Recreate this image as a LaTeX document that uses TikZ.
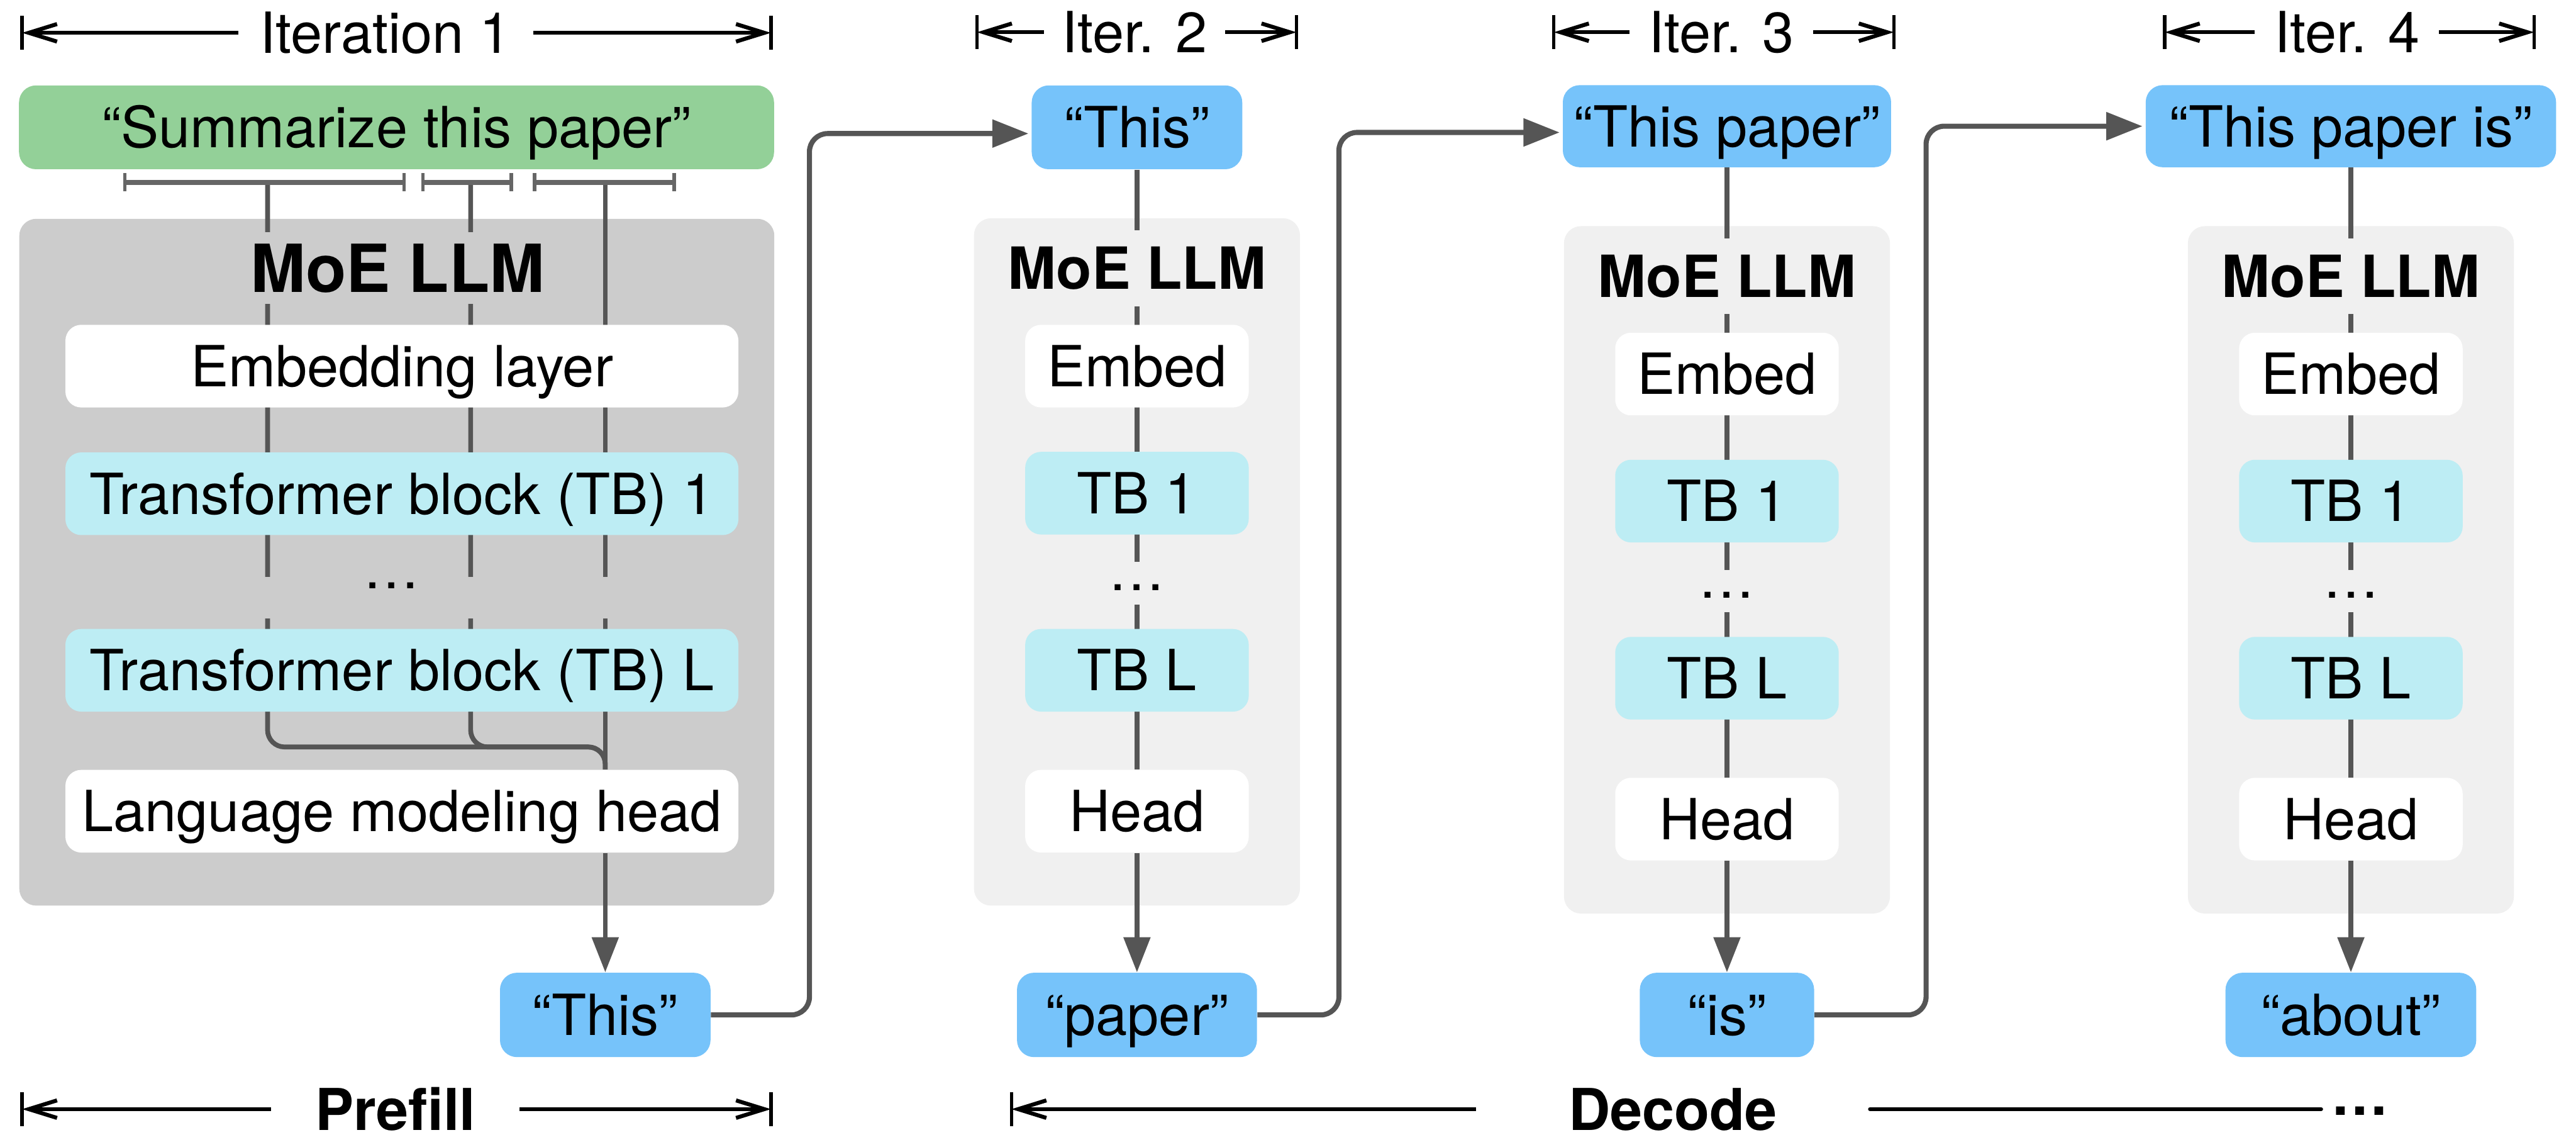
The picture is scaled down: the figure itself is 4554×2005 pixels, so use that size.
\documentclass[tikz,border=0pt]{standalone}
\usepackage{fontspec}
\setmainfont{TeX Gyre Heros}
\usetikzlibrary{arrows.meta}

\pgfdeclarelayer{panel}
\pgfdeclarelayer{wires}
\pgfsetlayers{panel,wires,main}

\definecolor{promptgreen}{RGB}{147,208,152}
\definecolor{tokenblue}{RGB}{118,195,250}
\definecolor{blockcyan}{RGB}{189,237,244}
\definecolor{panelgray}{RGB}{204,204,204}
\definecolor{panellight}{RGB}{240,240,240}
\definecolor{wiregray}{RGB}{85,85,85}
\definecolor{spangray}{RGB}{102,102,102}

\newcommand{\bodyfont}{\fontsize{28.5}{34}\selectfont}
\newcommand{\bigtitlefont}{\fontsize{33.3}{40}\selectfont\bfseries}
\newcommand{\smalltitlefont}{\fontsize{29.2}{35}\selectfont\bfseries}
\newcommand{\phasefont}{\fontsize{29}{35}\selectfont\bfseries}

\tikzset{
  blk/.style={rounded corners=0.28cm, inner sep=0pt, font=\bodyfont,
              text height=20.5pt, text depth=0pt},
  tokbox/.style={blk, fill=tokenblue, minimum height=1.46cm, rounded corners=0.3cm},
  promptbox/.style={blk, fill=promptgreen, minimum height=1.48cm, rounded corners=0.3cm},
  layerbox/.style={blk, fill=white, minimum height=1.46cm},
  tbbox/.style={blk, fill=blockcyan, minimum height=1.46cm},
  llmpanel/.style={rounded corners=0.3cm, inner sep=0pt},
  bigtitle/.style={font=\bigtitlefont, fill=panelgray, inner xsep=0.2cm,
                   inner ysep=0.21cm, text height=24pt, text depth=0pt},
  smalltitle/.style={font=\smalltitlefont, fill=panellight, inner xsep=0.1cm,
                     inner ysep=0.3cm, text height=21pt, text depth=0pt},
  wire/.style={draw=wiregray, line width=0.085cm},
  flow/.style={wire, -{Triangle[length=0.62cm, width=0.46cm]}},
  link/.style={wire, line width=0.09cm, rounded corners=0.32cm, shorten >=0.05cm,
               -{Triangle[length=0.64cm, width=0.48cm]}},
  span/.style={draw=black, line width=0.07cm,
               -{Straight Barb[length=0.5cm, width=0.31cm]}},
  spanplain/.style={draw=black, line width=0.07cm, line cap=round},
  spanbar/.style={draw=black, line width=0.06cm},
  spanlabel/.style={font=\bodyfont, inner sep=0pt, text height=20.5pt, text depth=0pt},
  phaselabel/.style={font=\phasefont, inner sep=0pt, text height=21pt, text depth=0pt},
  tokspan/.style={draw=spangray, line width=0.09cm},
  tokspantick/.style={draw=spangray, line width=0.06cm},
}

% one decode-step column of the model: #1 id, #2 centre x, #3 vertical offset
\newcommand{\decodecolumn}[3]{%
  \begin{pgfonlayer}{panel}
    \node[llmpanel, fill=panellight, minimum width=5.76cm, minimum height=12.14cm]
      (llm#1) at (#2, 993+#3) {};
  \end{pgfonlayer}
  \node[smalltitle] (title#1) at (#2, 474+#3) {MoE LLM};
  \node[layerbox, minimum width=3.95cm] (emb#1) at (#2, 647+#3) {Embed};
  \node[tbbox, minimum width=3.95cm] (tbA#1) at (#2, 871.5+#3) {TB 1};
  \node[fill=panellight, font=\bodyfont, inner sep=0pt, text height=0.5cm,
        text depth=0.25cm, anchor=base] (dots#1) at (#2, 1043+#3) {…};
  \node[tbbox, minimum width=3.95cm] (tbL#1) at (#2, 1184.5+#3) {TB L};
  \node[layerbox, minimum width=3.95cm] (head#1) at (#2, 1433.5+#3) {Head};
}

\begin{document}
\begin{tikzpicture}[x=0.01cm, y=-0.01cm]
\useasboundingbox (0,0) rectangle (4554,2005);

% ---------------- prefill: iteration 1 ----------------
\node[promptbox, minimum width=13.34cm] (prompt) at (701,225) {“Summarize this paper”};

\begin{pgfonlayer}{panel}
  \node[llmpanel, fill=panelgray, minimum width=13.34cm, minimum height=12.13cm]
    (llm1) at (701.5,993.5) {};
\end{pgfonlayer}
\node[bigtitle] (title1) at (703,474) {MoE LLM};
\node[layerbox, minimum width=11.89cm] (emb1) at (710.5,647) {Embedding layer};
\node[tbbox, minimum width=11.89cm] (tbA1) at (710.5,872.5) {Transformer block (TB) 1};
\node[fill=panelgray, font=\bodyfont, inner sep=0pt, text height=0.21cm,
      text depth=0.53cm, anchor=base] (dots1) at (770,1040)
      {\makebox[6.6cm][l]{\hspace{2.02cm}…}};
\node[tbbox, minimum width=11.89cm] (tbL1) at (710.5,1184.5) {Transformer block (TB) L};
\node[layerbox, minimum width=11.89cm] (head1) at (710.5,1433.5) {Language modeling head};
\node[tokbox, minimum width=3.72cm, minimum height=1.49cm] (out1) at (1070,1793.5) {“This”};

% token spans under the prompt
\foreach \l/\r in {221/714, 748/904, 945/1192} {
  \draw[tokspan] (\l,322) -- (\r,322);
  \draw[tokspantick] (\l,306) -- (\l,338) (\r,306) -- (\r,338);
}
\coordinate (s1) at (473,322);
\coordinate (s2) at (832,322);
\coordinate (s3) at (1070,322);
\coordinate (merge) at (1070,1320);

\begin{pgfonlayer}{wires}
  \draw[wire, rounded corners=0.3cm] (s1) |- (merge) -- (merge |- head1.north);
  \draw[wire, rounded corners=0.3cm] (s2) |- (merge) -- (merge |- head1.north);
  \draw[wire] (s3) -- (s3 |- head1.north);
\end{pgfonlayer}
\draw[flow] (s3 |- head1.south) -- (s3 |- out1.north);

% ---------------- decode: iterations 2 to 4 ----------------
\decodecolumn{2}{2010}{0}
\decodecolumn{3}{3053}{14}
\decodecolumn{4}{4156}{14}

\node[tokbox, minimum width=3.72cm, minimum height=1.48cm] (top2) at (2010,225) {“This”};
\node[tokbox, minimum width=5.80cm, minimum height=1.45cm] (top3) at (3053,223) {“This paper”};
\node[tokbox, minimum width=7.25cm, minimum height=1.45cm] (top4) at (4156,223) {“This paper is”};

\node[tokbox, minimum width=4.24cm, minimum height=1.49cm] (out2) at (2010,1793.5) {“paper”};
\node[tokbox, minimum width=3.08cm, minimum height=1.49cm] (out3) at (3053,1793.5) {“is”};
\node[tokbox, minimum width=4.43cm, minimum height=1.49cm] (out4) at (4156,1793.5) {“about”};

\begin{pgfonlayer}{wires}
  \foreach \i in {2,3,4} {
    \draw[wire] (top\i.south) -- (head\i.north);
  }
\end{pgfonlayer}
\foreach \i in {2,3,4} {
  \draw[flow] (head\i.south) -- (out\i.north);
}

% generated token fed back as the next input
\coordinate (c12) at (1431,1000);
\coordinate (c23) at (2367,1000);
\coordinate (c34) at (3405,1000);
\draw[link] (out1.east) -| (c12) |- ([yshift=-0.11cm]top2.west);
\draw[link] (out2.east) -| (c23) |- ([yshift=-0.11cm]top3.west);
\draw[link] (out3.east) -| (c34) |- (top4.west);

% ---------------- iteration spans ----------------
\node[spanlabel, minimum width=5.2cm]  (it1) at (682,58)    {Iteration 1};
\node[spanlabel, minimum width=3.19cm] (it2) at (2005.5,57) {Iter. 2};
\node[spanlabel, minimum width=3.24cm] (it3) at (3043,57)   {Iter. 3};
\node[spanlabel, minimum width=3.24cm] (it4) at (4149,57)   {Iter. 4};
\coordinate (it1a) at (39,58);   \coordinate (it1b) at (1363,58);
\coordinate (it2a) at (1727,57); \coordinate (it2b) at (2292,57);
\coordinate (it3a) at (2747,57); \coordinate (it3b) at (3348,57);
\coordinate (it4a) at (3827,57); \coordinate (it4b) at (4480,57);

% ---------------- phase spans ----------------
\node[phaselabel, minimum width=4.38cm] (prefill) at (699,1960) {Prefill};
\node[phaselabel, minimum width=6.95cm] (decode) at (2957.5,1960) {Decode};
\node[font=\phasefont, inner ysep=0pt, inner xsep=0.17cm, anchor=base] (more) at (4172,1971) {…};
\coordinate (pfa) at (39,1960); \coordinate (pfb) at (1363,1960);
\coordinate (dca) at (1788,1960);

\foreach \lab/\a/\b in {it1/it1a/it1b, it2/it2a/it2b, it3/it3a/it3b, it4/it4a/it4b, prefill/pfa/pfb} {
  \draw[span] (\lab.west) -- (\a);
  \draw[span] (\lab.east) -- (\b);
  \draw[spanbar] ([yshift=0.3cm]\a) -- ([yshift=-0.3cm]\a);
  \draw[spanbar] ([yshift=0.3cm]\b) -- ([yshift=-0.3cm]\b);
}
\draw[span] (decode.west) -- (dca);
\draw[spanbar] ([yshift=0.3cm]dca) -- ([yshift=-0.3cm]dca);
\draw[spanplain] (decode.east) -- (decode.east -| more.west);

\end{tikzpicture}
\end{document}
